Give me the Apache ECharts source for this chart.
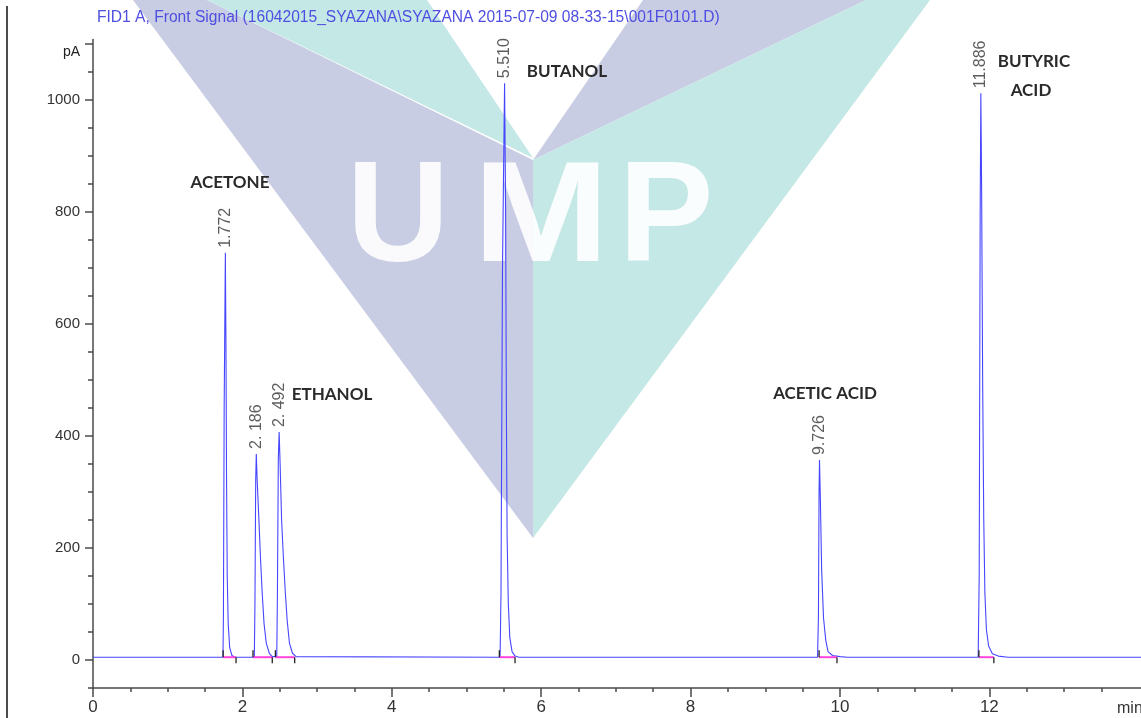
<!DOCTYPE html>
<html>
<head>
<meta charset="utf-8">
<script src="https://cdn.jsdelivr.net/npm/echarts@6/dist/echarts.min.js"></script>
<style>
  html, body { margin: 0; padding: 0; background: #ffffff; }
  #chart { width: 1141px; height: 718px; }
</style>
</head>
<body>
<div id="chart"></div>
<script>
// ---- Data ----
const titleText = 'FID1 A, Front Signal (16042015_SYAZANA\\SYAZANA 2015-07-09 08-33-15\\001F0101.D)';

// Trace: retention time (min) and detector signal (pA)
const timeMin = [
  0.000, 1.740, 1.746, 1.756, 1.772, 1.780, 1.788, 1.797, 1.810, 1.830, 1.860, 1.900,
  2.160, 2.168, 2.178, 2.186, 2.198, 2.218, 2.243, 2.265, 2.290, 2.320, 2.360, 2.400,
  2.460, 2.469, 2.481, 2.492, 2.505, 2.525, 2.550, 2.575, 2.600, 2.630, 2.670, 2.720,
  5.450, 5.462, 5.482, 5.510, 5.524, 5.534, 5.544, 5.560, 5.580, 5.610, 5.650, 5.700,
  9.700, 9.712, 9.720, 9.726, 9.737, 9.755, 9.780, 9.810, 9.840, 9.900, 10.000, 10.100,
  11.850, 11.864, 11.877, 11.886, 11.896, 11.910, 11.925, 11.940, 11.960, 11.990, 12.040, 12.120, 12.250,
  14.030
];
const signalPA = [
  5, 5, 80, 450, 727, 560, 320, 150, 65, 22, 8, 5,
  5, 100, 320, 368, 320, 260, 180, 120, 65, 30, 12, 6,
  6, 120, 360, 407, 350, 250, 180, 120, 70, 30, 12, 6,
  5, 120, 700, 1030, 800, 450, 220, 100, 40, 15, 7, 5,
  5, 80, 300, 357, 290, 160, 75, 35, 15, 8, 6, 5,
  5, 150, 800, 1012, 850, 500, 250, 120, 55, 25, 11, 7, 5,
  5
];

// Peak table
const retentionTimes = [1.772, 2.186, 2.492, 5.510, 9.726, 11.886];
const retentionLabels = ['1.772', '2. 186', '2. 492', '5.510', '9.726', '11.886'];
const peakHeights = [727, 368, 407, 1030, 357, 1012];

// Integration baseline start / end (min)
const integStart = [1.742, 2.142, 2.442, 5.440, 9.720, 11.860];
const integEnd = [1.915, 2.400, 2.700, 5.650, 9.960, 12.060];
const baselinePA = 5;

// Compound annotations
const compoundNames = ['ACETONE', 'ETHANOL', 'BUTANOL', 'ACETIC ACID', 'BUTYRIC', 'ACID'];

// Axis ticks
const yMajorTicks = [0, 200, 400, 600, 800, 1000, 1100];
const yLabelValues = [0, 200, 400, 600, 800, 1000];
const yMinorTicks = [-50, 50, 100, 150, 250, 300, 350, 450, 500, 550, 650, 700, 750, 850, 900, 950, 1050];
const xLabelValues = [0, 2, 4, 6, 8, 10, 12];
const xMinorTicks = [0.5, 1, 1.5, 2.5, 3, 3.5, 4.5, 5, 5.5, 6.5, 7, 7.5, 8.5, 9, 9.5, 10.5, 11, 11.5, 12.5, 13, 13.5];

// ---- Build chart ----
const trace = timeMin.map((t, i) => [t, signalPA[i]]);
const apexes = retentionTimes.map((t, i) => ({ value: [t, peakHeights[i]], rtLabel: retentionLabels[i] }));
const integ = integStart.map((s, i) => [s, integEnd[i], baselinePA]);

const LAV = '#c9cde4';
const TEAL = '#c4e8e5';
const AXIS = '#4a4a4a';
const FONT = '"Liberation Sans", Arial, sans-serif';
const NAMEFONT = 'Lato, "Open Sans", sans-serif';

const chart = echarts.init(document.getElementById('chart'), null, { renderer: 'canvas' });

const axisCommon = {
  type: 'value',
  splitLine: { show: false }
};

chart.setOption({
  animation: false,
  backgroundColor: '#ffffff',
  title: {
    text: titleText,
    left: 97, top: 10, padding: 0,
    textStyle: { color: '#4e4ee0', fontSize: 15.6, fontWeight: 'normal', fontFamily: FONT }
  },
  grid: { left: 93, right: 0, top: 39.5, bottom: 30, containLabel: false, outerBoundsMode: 'none' },
  xAxis: [
    Object.assign({}, axisCommon, {
      min: 0, max: 14.03, position: 'bottom',
      axisLine: { onZero: false, lineStyle: { color: AXIS, width: 1.5 } },
      axisTick: { show: true, customValues: xLabelValues, length: 9, lineStyle: { color: AXIS, width: 1.5 } },
      axisLabel: { customValues: xLabelValues, margin: 11, color: '#333', fontSize: 17, fontFamily: FONT }
    }),
    Object.assign({}, axisCommon, {
      min: 0, max: 14.03, position: 'bottom',
      axisLine: { show: false, onZero: false },
      axisTick: { show: true, customValues: xMinorTicks, length: 4, lineStyle: { color: AXIS, width: 1.5 } },
      axisLabel: { show: false }
    })
  ],
  yAxis: [
    Object.assign({}, axisCommon, {
      min: -50, max: 1108, position: 'left',
      axisLine: { show: true, onZero: false, lineStyle: { color: AXIS, width: 1.5 } },
      axisTick: { show: true, customValues: yMajorTicks, length: 8, lineStyle: { color: AXIS, width: 1.5 } },
      axisLabel: { customValues: yLabelValues, margin: 13, color: '#333', fontSize: 15, fontFamily: FONT,
        formatter: function (v) { return String(v); } }
    }),
    Object.assign({}, axisCommon, {
      min: -50, max: 1108, position: 'left',
      axisLine: { show: false, onZero: false },
      axisTick: { show: true, customValues: yMinorTicks, length: 5, lineStyle: { color: AXIS, width: 1.5 } },
      axisLabel: { show: false }
    })
  ],
  graphic: [
    // watermark
    { type: 'polygon', z: -5, silent: true, shape: { points: [[133, 0], [207, 0], [533, 160], [533, 538]] }, style: { fill: LAV } },
    { type: 'polygon', z: -5, silent: true, shape: { points: [[207, 0], [427, 0], [533, 158]] }, style: { fill: TEAL } },
    { type: 'polygon', z: -5, silent: true, shape: { points: [[643, 0], [866, 0], [533, 160]] }, style: { fill: LAV } },
    { type: 'polygon', z: -5, silent: true, shape: { points: [[866, 0], [930, 0], [533, 538], [533, 160]] }, style: { fill: TEAL } },
    { type: 'text', z: -4, silent: true, x: 398, y: 293, style: { text: 'U', fill: 'rgba(255,255,255,0.9)', font: 'bold 142px ' + FONT, textAlign: 'center', textVerticalAlign: 'bottom' } },
    { type: 'text', z: -4, silent: true, x: 541, y: 293, scaleX: 1.15, style: { text: 'M', fill: 'rgba(255,255,255,0.9)', font: 'bold 142px ' + FONT, textAlign: 'center', textVerticalAlign: 'bottom' } },
    { type: 'text', z: -4, silent: true, x: 666, y: 293, style: { text: 'P', fill: 'rgba(255,255,255,0.9)', font: 'bold 142px ' + FONT, textAlign: 'center', textVerticalAlign: 'bottom' } },
    // page border line
    { type: 'line', z: 5, silent: true, shape: { x1: 7, y1: 6, x2: 7, y2: 718 }, style: { stroke: '#111', lineWidth: 1.5 } },
    // axis unit labels
    { type: 'text', z: 5, x: 80, y: 52, style: { text: 'pA', fill: '#222', font: '14px ' + FONT, textAlign: 'right', textVerticalAlign: 'middle' } },
    { type: 'text', z: 5, x: 1117, y: 709, style: { text: 'min', fill: '#333', font: '16px ' + FONT, textAlign: 'left', textVerticalAlign: 'middle' } },
    // compound names
    { type: 'text', z: 5, x: 230, y: 183, style: { text: compoundNames[0], fill: '#2a2a2a', font: 'bold 17px ' + NAMEFONT, textAlign: 'center', textVerticalAlign: 'middle' } },
    { type: 'text', z: 5, x: 332, y: 395, style: { text: compoundNames[1], fill: '#2a2a2a', font: 'bold 17px ' + NAMEFONT, textAlign: 'center', textVerticalAlign: 'middle' } },
    { type: 'text', z: 5, x: 567, y: 72, style: { text: compoundNames[2], fill: '#2a2a2a', font: 'bold 17px ' + NAMEFONT, textAlign: 'center', textVerticalAlign: 'middle' } },
    { type: 'text', z: 5, x: 825, y: 394, style: { text: compoundNames[3], fill: '#2a2a2a', font: 'bold 17px ' + NAMEFONT, textAlign: 'center', textVerticalAlign: 'middle' } },
    { type: 'text', z: 5, x: 1034, y: 62, style: { text: compoundNames[4], fill: '#2a2a2a', font: 'bold 17px ' + NAMEFONT, textAlign: 'center', textVerticalAlign: 'middle' } },
    { type: 'text', z: 5, x: 1031, y: 91, style: { text: compoundNames[5], fill: '#2a2a2a', font: 'bold 17px ' + NAMEFONT, textAlign: 'center', textVerticalAlign: 'middle' } }
  ],
  series: [
    {
      name: 'FID1 A', type: 'line', data: trace, z: 3,
      showSymbol: false, symbol: 'none', clip: true,
      lineStyle: { color: '#4646ff', width: 1.1 }
    },
    {
      name: 'integration', type: 'custom', data: integ, z: 4,
      renderItem: function (params, api) {
        const s = api.coord([api.value(0), api.value(2)]);
        const e = api.coord([api.value(1), api.value(2)]);
        return {
          type: 'group',
          children: [
            { type: 'line', shape: { x1: s[0], y1: s[1], x2: e[0], y2: e[1] }, style: { stroke: '#ff44dd', lineWidth: 2 } },
            { type: 'line', shape: { x1: s[0], y1: s[1] - 7, x2: s[0], y2: s[1] }, style: { stroke: '#222', lineWidth: 1.3 } },
            { type: 'line', shape: { x1: e[0], y1: e[1], x2: e[0], y2: e[1] + 6 }, style: { stroke: '#222', lineWidth: 1.3 } }
          ]
        };
      }
    },
    {
      name: 'retention', type: 'scatter', data: apexes, z: 5,
      symbolSize: 0,
      label: {
        show: true, position: 'top', distance: 5, rotate: 90,
        align: 'left', verticalAlign: 'middle',
        color: '#333', fontSize: 16, fontFamily: FONT,
        formatter: function (p) { return p.data.rtLabel; }
      }
    }
  ]
});
</script>
</body>
</html>
